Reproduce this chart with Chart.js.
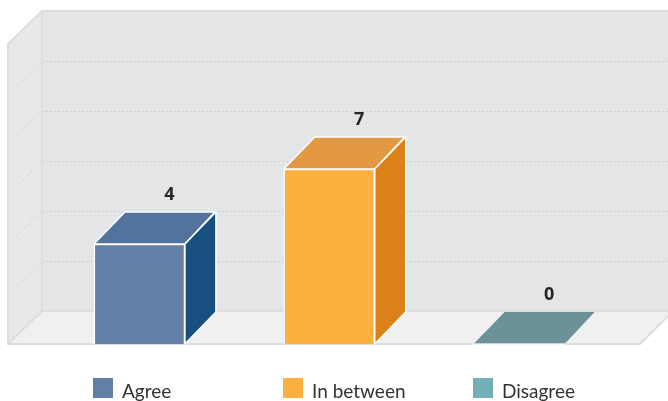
<!DOCTYPE html>
<html>
<head>
<meta charset="utf-8">
<style>html,body{margin:0;padding:0;background:#fff}canvas{display:block}</style>
<script src="https://cdn.jsdelivr.net/npm/chart.js@4"></script>
</head>
<body>
<canvas id="c" width="668" height="401"></canvas>
<script>
const categories = ['Agree', 'In between', 'Disagree'];
const values = [4, 7, 0];
const yMax = 12;
const yStep = 2;
const frontColors = ['#627fa8', '#fdb040', '#74aeb6'];
const topColors = ['#52739e', '#e39842', '#6a9298'];
const sideColors = ['#17507f', '#da8119', '#5a8088'];
const legendX = [93, 283, 473];
const DEPTH = 33;

const scene = {
  id: 'scene',
  beforeDatasetsDraw(chart) {
    const { ctx, width } = chart;
    const y = chart.scales.y;
    const by = v => y.getPixelForValue(v);
    const fx = 8, bx = fx + DEPTH + 1;
    const floorY = by(0), topY = by(yMax);
    ctx.save();
    ctx.fillStyle = '#e4e5e7';
    ctx.fillRect(bx, topY - DEPTH, width - bx, floorY - topY);
    ctx.fillStyle = '#e7e8e9';
    ctx.beginPath();
    ctx.moveTo(fx, topY); ctx.lineTo(bx, topY - DEPTH); ctx.lineTo(bx, floorY - DEPTH); ctx.lineTo(fx, floorY);
    ctx.closePath(); ctx.fill();
    ctx.fillStyle = '#f0f0f0';
    ctx.beginPath();
    ctx.moveTo(fx, floorY); ctx.lineTo(bx, floorY - DEPTH); ctx.lineTo(width, floorY - DEPTH);
    ctx.lineTo(width, floorY - 28); ctx.lineTo(640, floorY);
    ctx.closePath(); ctx.fill();
    ctx.strokeStyle = '#b8babc';
    ctx.lineWidth = 1;
    ctx.setLineDash([1, 3]);
    for (let v = yStep; v < yMax; v += yStep) {
      const p = Math.round(by(v)) + 0.5;
      ctx.beginPath();
      ctx.moveTo(fx, p); ctx.lineTo(bx, p - DEPTH); ctx.lineTo(width, p - DEPTH);
      ctx.stroke();
    }
    ctx.setLineDash([]);
    ctx.strokeStyle = '#dcddde';
    ctx.lineWidth = 2;
    ctx.beginPath();
    ctx.moveTo(width, topY - DEPTH); ctx.lineTo(bx, topY - DEPTH); ctx.lineTo(fx, topY);
    ctx.lineTo(fx, floorY); ctx.lineTo(640, floorY); ctx.lineTo(width, floorY - 28);
    ctx.moveTo(bx, topY - DEPTH); ctx.lineTo(bx, floorY - DEPTH); ctx.lineTo(fx, floorY);
    ctx.moveTo(bx, floorY - DEPTH); ctx.lineTo(width, floorY - DEPTH);
    ctx.stroke();
    chart.getDatasetMeta(0).data.forEach((bar, i) => {
      const l = bar.x - bar.width / 2, r = bar.x + bar.width / 2, t = bar.y, b = bar.base;
      ctx.strokeStyle = '#fff';
      ctx.lineWidth = 1.5;
      ctx.lineJoin = 'round';
      ctx.fillStyle = topColors[i];
      ctx.beginPath();
      ctx.moveTo(l, t); ctx.lineTo(l + DEPTH - 2, t - DEPTH + 1); ctx.lineTo(r + DEPTH - 3, t - DEPTH + 1); ctx.lineTo(r, t);
      ctx.closePath(); ctx.fill();
      if (values[i] > 0) {
        ctx.stroke();
        ctx.fillStyle = sideColors[i];
        ctx.beginPath();
        ctx.moveTo(r, t); ctx.lineTo(r + 31, t - 32); ctx.lineTo(r + 31, b - 32); ctx.lineTo(r, b);
        ctx.closePath(); ctx.fill(); ctx.stroke();
      } else {
        ctx.beginPath(); ctx.moveTo(l - 1, b); ctx.lineTo(r + 1, b); ctx.stroke();
      }
    });
    ctx.restore();
  },
  afterDatasetsDraw(chart) {
    const { ctx } = chart;
    ctx.save();
    ctx.fillStyle = '#262626';
    ctx.font = 'bold 18px "Open Sans"';
    ctx.textAlign = 'center';
    ctx.textBaseline = 'alphabetic';
    chart.getDatasetMeta(0).data.forEach((bar, i) => {
      ctx.fillText(String(values[i]), bar.x + 30, bar.y - 44);
    });
    ctx.font = '19px Lato';
    ctx.textAlign = 'left';
    categories.forEach((c, i) => {
      ctx.fillStyle = frontColors[i];
      ctx.fillRect(legendX[i], 378, 20, 20);
      ctx.fillStyle = '#333333';
      ctx.fillText(c, legendX[i] + 29, 398);
    });
    ctx.restore();
  }
};

new Chart(document.getElementById('c'), {
  type: 'bar',
  data: {
    labels: categories,
    datasets: [{
      data: values,
      backgroundColor: frontColors,
      borderColor: '#ffffff',
      borderWidth: ctx => (values[ctx.dataIndex] > 0 ? 1.5 : 0),
      barThickness: 91
    }]
  },
  options: {
    responsive: false,
    animation: false,
    layout: { padding: { left: 44.5, right: 54, top: 44, bottom: 57 } },
    scales: {
      x: { display: false },
      y: { display: false, min: 0, max: yMax, ticks: { stepSize: yStep } }
    },
    plugins: { legend: { display: false }, tooltip: { enabled: false } }
  },
  plugins: [scene]
});
</script>
</body>
</html>
